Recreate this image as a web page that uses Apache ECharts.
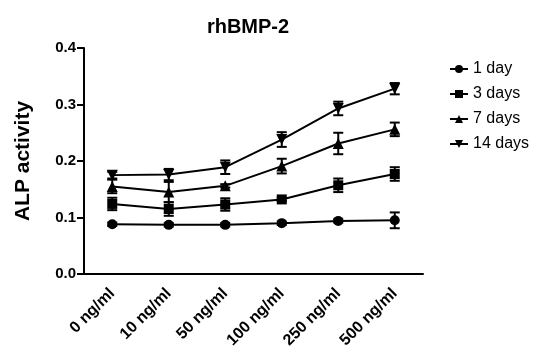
<!DOCTYPE html>
<html><head><meta charset="utf-8">
<script src="https://cdn.jsdelivr.net/npm/echarts@6/dist/echarts.min.js"></script>
<style>html,body{margin:0;padding:0;background:#fff}#c{width:555px;height:352px}</style>
</head><body><div id="c"></div>
<script>
const categories = ['0 ng/ml','10 ng/ml','50 ng/ml','100 ng/ml','250 ng/ml','500 ng/ml'];
const seriesNames = ['1 day','3 days','7 days','14 days'];
const oneDay = [0.088, 0.087, 0.087, 0.090, 0.094, 0.095];
const oneDayErr = [0.003, 0.003, 0.003, 0.003, 0.003, 0.014];
const threeDays = [0.124, 0.115, 0.123, 0.132, 0.157, 0.177];
const threeDaysErr = [0.011, 0.012, 0.011, 0.003, 0.012, 0.012];
const sevenDays = [0.155, 0.145, 0.156, 0.191, 0.231, 0.256];
const sevenDaysErr = [0.012, 0.018, 0.003, 0.013, 0.019, 0.012];
const fourteenDays = [0.175, 0.176, 0.189, 0.238, 0.293, 0.328];
const fourteenDaysErr = [0.006, 0.010, 0.012, 0.013, 0.012, 0.010];
const yTicks = [0.0, 0.1, 0.2, 0.3, 0.4];

const values = [oneDay, threeDays, sevenDays, fourteenDays];
const errs = [oneDayErr, threeDaysErr, sevenDaysErr, fourteenDaysErr];
const symbols = ['circle', 'rect', 'triangle', 'path://M0,0 L10,0 L5,9 Z'];
const sizes = [10, 10, 11, 11];
const FONT = 'Arial, "Liberation Sans", sans-serif';

const chart = echarts.init(document.getElementById('c'));
const series = [];
values.forEach((v, i) => {
  series.push({
    name: seriesNames[i], type: 'line', data: v,
    symbol: symbols[i], symbolSize: sizes[i], showSymbol: true,
    lineStyle: {color: '#000', width: 2}, itemStyle: {color: '#000'},
    z: 3, animation: false
  });
  series.push({
    type: 'custom', name: seriesNames[i] + ' err',
    data: v.map((y, k) => [k, y - errs[i][k], y + errs[i][k]]),
    renderItem: function (params, api) {
      const x = api.value(0);
      const lo = api.coord([x, api.value(1)]);
      const hi = api.coord([x, api.value(2)]);
      const hw = 5;
      const st = {stroke: '#000', lineWidth: 2};
      return {type: 'group', children: [
        {type: 'line', shape: {x1: lo[0], y1: lo[1], x2: hi[0], y2: hi[1]}, style: st},
        {type: 'line', shape: {x1: lo[0]-hw, y1: lo[1], x2: lo[0]+hw, y2: lo[1]}, style: st},
        {type: 'line', shape: {x1: hi[0]-hw, y1: hi[1], x2: hi[0]+hw, y2: hi[1]}, style: st}
      ]};
    },
    z: 2, animation: false, silent: true
  });
});

chart.setOption({
  animation: false,
  textStyle: {fontFamily: FONT},
  title: {text: 'rhBMP-2', left: 243, top: 12, textAlign: 'center',
    textStyle: {fontFamily: FONT, fontSize: 20, fontWeight: 'bold', color: '#000'}},
  legend: {
    data: seriesNames, orient: 'vertical', left: 444, top: 56,
    itemWidth: 18, itemHeight: 10, itemGap: 9,
    textStyle: {fontFamily: FONT, fontSize: 16, color: '#000', lineHeight: 16}
  },
  grid: {left: 84, right: 132, top: 48, bottom: 78, containLabel: false},
  xAxis: {
    type: 'category', data: categories, boundaryGap: true,
    axisLine: {lineStyle: {color: '#000', width: 2}},
    axisTick: {alignWithLabel: true, length: 6, lineStyle: {color: '#000', width: 2}},
    axisLabel: {rotate: 45, color: '#000', fontFamily: FONT, fontSize: 16, fontWeight: 'bold', margin: 17},
    splitLine: {show: false}
  },
  yAxis: {
    type: 'value', min: yTicks[0], max: yTicks[yTicks.length-1], interval: 0.1,
    name: 'ALP activity', nameLocation: 'middle', nameGap: 50,
    nameTextStyle: {fontFamily: FONT, fontSize: 21, fontWeight: 'bold', color: '#000'},
    axisLine: {show: true, lineStyle: {color: '#000', width: 2}},
    axisTick: {show: true, length: 7, lineStyle: {color: '#000', width: 2}},
    axisLabel: {color: '#000', fontFamily: FONT, fontSize: 15, fontWeight: 'bold', margin: 8,
      formatter: v => v.toFixed(1)},
    splitLine: {show: false}
  },
  series: series
});
</script></body></html>
